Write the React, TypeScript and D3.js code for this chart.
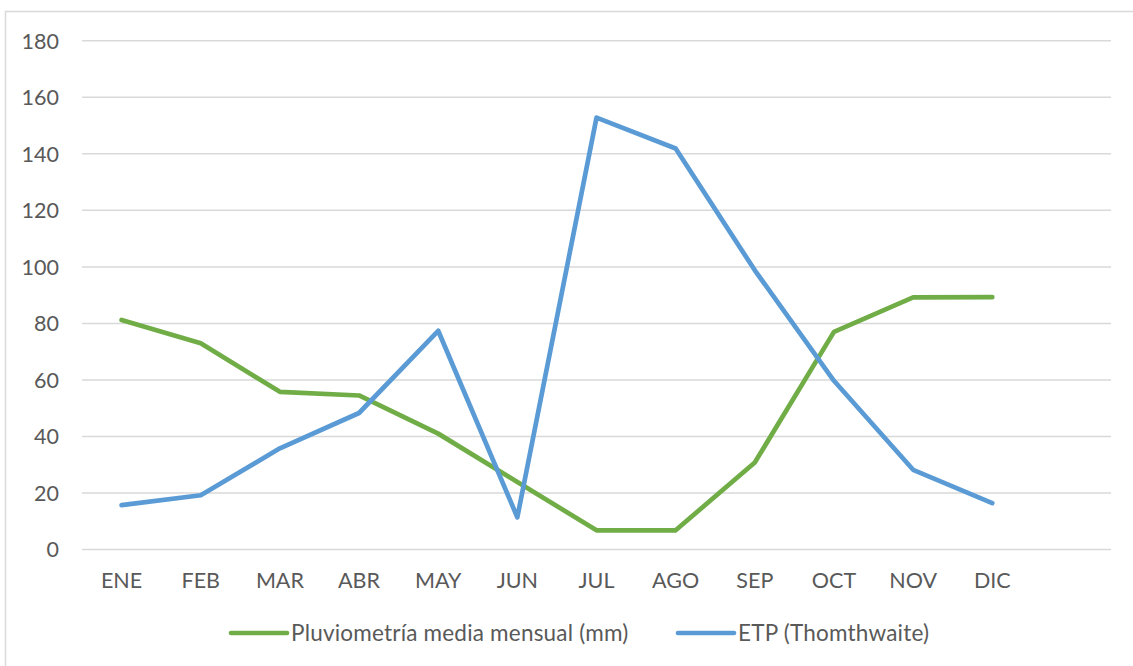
import React, { useRef, useEffect } from 'react';
import * as d3 from 'd3';

const months = ['ENE', 'FEB', 'MAR', 'ABR', 'MAY', 'JUN', 'JUL', 'AGO', 'SEP', 'OCT', 'NOV', 'DIC'];
const pluviometria = [81.2, 73.0, 55.8, 54.5, 41.0, 23.9, 6.8, 6.8, 30.8, 77.0, 89.2, 89.3];
const etp = [15.7, 19.2, 35.8, 48.3, 77.4, 11.4, 152.8, 141.9, 98.8, 59.7, 28.2, 16.4];
const yTicks = [0, 20, 40, 60, 80, 100, 120, 140, 160, 180];
const seriesNames = ['Pluviometría media mensual (mm)', 'ETP (Thomthwaite)'];

function App() {
    const svgRef = useRef<SVGSVGElement>(null);

    useEffect(() => {
        const w = 1133;
        const h = 666;
        const svg = d3.select(svgRef.current);
        svg.selectAll('*').remove();
        svg.attr('width', w).attr('height', h);

        const font = 'Lato, "Open Sans", sans-serif';
        const textColor = '#595959';
        const colors = ['#70AD47', '#5B9BD5'];

        // chart frame (runs past the right and bottom edges)
        svg.append('rect')
            .attr('x', 5.5).attr('y', 11.5)
            .attr('width', 1140).attr('height', 670)
            .attr('fill', 'white')
            .attr('stroke', '#D9D9D9')
            .attr('stroke-width', 1.5);

        // scales: 12 months plus one empty slot at the end
        const slots = [...months, ''];
        const x = d3.scaleBand().domain(slots.map((_, i) => String(i))).range([82, 1111]);
        const cx = (i: number) => (x(String(i)) as number) + x.bandwidth() / 2;
        const y = d3.scaleLinear().domain([0, 180]).range([549.5, 40.8]);

        // gridlines
        svg.append('g')
            .selectAll('line')
            .data(yTicks)
            .join('line')
            .attr('x1', 82).attr('x2', 1111)
            .attr('y1', d => y(d)).attr('y2', d => y(d))
            .attr('stroke', '#D9D9D9')
            .attr('stroke-width', 1.5);

        // y labels
        svg.append('g')
            .selectAll('text')
            .data(yTicks)
            .join('text')
            .attr('x', 59)
            .attr('y', d => y(d) + 7.8)
            .attr('text-anchor', 'end')
            .attr('font-family', font)
            .attr('font-size', 21.5)
            .attr('fill', textColor)
            .text(d => d);

        // x labels
        svg.append('g')
            .selectAll('text')
            .data(months)
            .join('text')
            .attr('x', (_, i) => cx(i))
            .attr('y', 588)
            .attr('text-anchor', 'middle')
            .attr('font-family', font)
            .attr('font-size', 21.5)
            .attr('fill', textColor)
            .text(d => d);

        // lines
        const line = d3.line<number>()
            .x((_, i) => cx(i))
            .y(d => y(d));

        [pluviometria, etp].forEach((values, k) => {
            svg.append('path')
                .datum(values)
                .attr('d', line)
                .attr('fill', 'none')
                .attr('stroke', colors[k])
                .attr('stroke-width', 4.7)
                .attr('stroke-linejoin', 'round')
                .attr('stroke-linecap', 'round');
        });

        // legend
        const legendX = [231, 678];
        const legend = svg.append('g');
        seriesNames.forEach((name, k) => {
            legend.append('line')
                .attr('x1', legendX[k]).attr('x2', legendX[k] + 56)
                .attr('y1', 633).attr('y2', 633)
                .attr('stroke', colors[k])
                .attr('stroke-width', 4.7)
                .attr('stroke-linecap', 'round');
            legend.append('text')
                .attr('x', legendX[k] + 60)
                .attr('y', 641)
                .attr('font-family', font)
                .attr('font-size', 22.5)
                .attr('letter-spacing', 0.2)
                .attr('fill', textColor)
                .text(name);
        });
    }, []);

    return (
        <svg ref={svgRef} style={{ position: 'absolute', left: 0, top: 0, display: 'block' }}></svg>
    );
}

export default App;
